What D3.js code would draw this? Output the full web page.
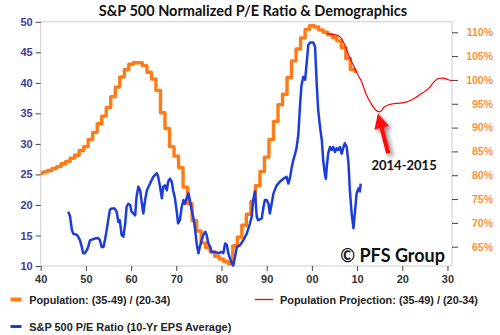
<!DOCTYPE html>
<html><head><meta charset="utf-8">
<script src="https://cdn.jsdelivr.net/npm/d3@7"></script>
<style>body{margin:0;background:#fff}svg{display:block}</style>
</head><body>
<script>
// ---- Data ----
const popYears = [1940,1941,1942,1943,1944,1945,1946,1947,1948,1949,1950,1951,1952,1953,1954,1955,1956,1957,1958,1959,1960,1961,1962,1963,1964,1965,1966,1967,1968,1969,1970,1971,1972,1973,1974,1975,1976,1977,1978,1979,1980,1981,1982,1983,1984,1985,1986,1987,1988,1989,1990,1991,1992,1993,1994,1995,1996,1997,1998,1999,2000,2001,2002,2003,2004,2005,2006,2007,2008,2009,2010];
const popValues = [80.4,80.7,81.0,81.4,81.8,82.4,82.9,83.6,84.2,85.2,86.0,87.5,89.0,90.8,92.4,94.2,96.5,98.5,100.6,102.2,103.3,103.6,103.6,103.0,101.6,100.2,97.8,93.1,89.8,86.0,84.0,81.6,77.5,74.0,70.5,68.3,65.8,64.8,63.9,63.0,62.4,61.9,61.4,65.2,67.0,69.5,71.8,74.5,77.8,80.8,83.8,87.5,91.3,94.8,97.0,100.5,104.0,106.5,108.8,110.6,111.4,111.1,110.5,110.0,109.5,108.9,108.2,106.8,104.5,102.2,101.8];

const projYears = [2003.3,2004,2005,2006,2007,2008,2009,2010,2011,2012,2013,2014,2015,2016,2017,2018,2019,2020,2021,2022,2023,2024,2025,2026,2027,2028,2029,2030,2031];
const projValues = [109.7,109.6,109.5,109.2,107.9,105.6,103.4,101.4,99.6,97.0,95.2,93.8,93.3,94.3,94.8,95.0,95.1,95.2,95.4,95.8,96.3,97.0,97.6,98.4,99.6,100.3,100.4,100.1,99.8];

const peYears = [1946.1,1946.5,1946.9,1947.2,1948.0,1948.3,1948.7,1949.1,1949.4,1949.8,1950.2,1950.5,1950.9,1952.0,1952.7,1953.1,1953.5,1953.9,1954.2,1954.6,1955.3,1955.7,1956.4,1956.8,1957.2,1957.5,1957.9,1958.3,1958.7,1959.0,1959.4,1959.8,1960.1,1960.9,1961.2,1961.6,1962.0,1962.4,1962.7,1963.1,1963.5,1964.2,1964.9,1965.7,1966.0,1966.4,1966.8,1967.1,1967.5,1967.9,1968.2,1968.6,1969.0,1969.3,1969.7,1970.1,1970.4,1970.8,1971.2,1971.6,1971.9,1972.3,1972.7,1973.0,1973.4,1973.8,1974.1,1974.5,1974.9,1975.2,1975.6,1976.0,1976.4,1976.7,1977.1,1977.5,1977.8,1978.6,1979.3,1980.0,1980.4,1980.8,1981.2,1981.5,1981.9,1982.3,1982.6,1983.0,1983.4,1984.1,1984.8,1985.6,1986.3,1986.7,1987.0,1987.4,1987.8,1988.1,1988.9,1989.3,1989.6,1990.0,1990.4,1990.7,1991.1,1991.5,1992.2,1992.9,1993.7,1994.4,1994.8,1995.2,1995.5,1995.9,1996.3,1996.6,1997.0,1997.4,1997.7,1998.1,1998.5,1998.9,1999.2,1999.6,2000.3,2000.7,2001.1,2001.4,2001.8,2002.2,2002.5,2002.9,2003.1,2003.3,2003.6,2004.0,2004.4,2004.7,2005.1,2005.5,2005.8,2006.2,2006.6,2007.0,2007.3,2007.7,2008.1,2008.4,2008.8,2009.2,2009.5,2009.9,2010.3,2010.6,2010.8];
const peValues = [18.9,18.1,15.9,15.3,15.1,14.8,14.2,13.1,12.1,12.1,12.6,13.1,14.2,14.5,14.6,14.2,13.1,13.1,14.2,15.9,19.2,19.4,19.4,18.9,17.2,17.5,15.1,14.8,17.0,19.7,20.2,20.0,18.9,18.3,21.3,23.0,22.4,20.2,18.6,20.8,22.4,23.5,24.6,25.2,24.6,23.0,21.1,23.0,23.2,22.4,23.8,24.3,23.8,22.4,21.1,18.9,17.0,17.5,19.7,20.8,20.2,21.1,21.9,20.8,19.2,17.8,16.4,13.7,12.1,13.1,14.2,15.1,15.6,15.1,13.7,13.1,12.3,12.3,12.1,12.3,12.1,13.7,13.4,12.1,11.2,10.4,10.1,11.5,13.1,13.4,14.2,15.3,17.0,18.1,20.8,22.2,18.1,17.5,17.8,19.7,20.8,20.8,20.2,18.6,20.2,21.9,23.2,23.8,24.3,24.6,23.5,24.6,26.0,27.4,28.4,29.3,31.5,36.6,39.6,41.0,40.5,43.7,46.2,46.6,46.6,45.9,39.4,35.5,32.8,30.6,27.4,24.9,24.3,26.3,28.4,29.5,29.0,29.5,28.7,29.3,29.0,29.5,28.4,29.5,30.1,29.5,26.8,22.4,18.6,16.2,18.6,21.9,22.7,22.2,23.5];

const xTicks = [1940,1950,1960,1970,1980,1990,2000,2010,2020,2030];
const xTickLabels = ["40","50","60","70","80","90","00","10","20","30"];
const leftTicks = [10,15,20,25,30,35,40,45,50];
const rightTicks = [65,70,75,80,85,90,95,100,105,110];

const titleText = "S&P 500 Normalized P/E Ratio & Demographics";
const legendLabels = ["Population: (35-49) / (20-34)", "Population Projection: (35-49) / (20-34)", "S&P 500 P/E Ratio (10-Yr EPS Average)"];
const arrowTip = [2014.6, 93.0];
const arrowTail = [2016.9, 84.6];

// ---- Chart ----
const W = 500, H = 335;
const C = {orange:"#ff7b17", red:"#ff0000", blue:"#1c3ddc", leftLab:"#3d3d9e", rightLab:"#f7923a"};
const svg = d3.select("body").append("svg").attr("width", W).attr("height", H);

const x = d3.scaleLinear().domain([1940, 2031]).range([40.7, 452]);
const yL = d3.scaleLinear().domain([10, 50]).range([266, 21.8]);
const yR = d3.scaleLinear().domain([60.95, 112.2]).range([266, 21.8]);

const defs = svg.append("defs");
const f = defs.append("filter").attr("id","shadow").attr("x","-50%").attr("y","-50%").attr("width","200%").attr("height","200%");
f.append("feDropShadow").attr("dx",3).attr("dy",3).attr("stdDeviation",2).attr("flood-color","#000").attr("flood-opacity",0.45);

// plot frame
svg.append("rect").attr("x", x.range()[0]).attr("y", yL.range()[1])
  .attr("width", x.range()[1]-x.range()[0]).attr("height", yL.range()[0]-yL.range()[1])
  .attr("fill","none").attr("stroke","#cccccc").attr("stroke-width",1);

// title
svg.append("text").attr("x", 253).attr("y", 16).attr("text-anchor","middle")
  .attr("font-family","Lato, 'Open Sans', sans-serif").attr("font-weight","bold")
  .attr("font-size", 14.5).attr("fill","#111").text(titleText);

// axes
const axFont = "'Liberation Sans', Arial, sans-serif";
const gL = svg.append("g").attr("transform", `translate(${x.range()[0]},0)`)
  .call(d3.axisLeft(yL).tickValues(leftTicks).tickSize(5).tickPadding(3));
gL.select(".domain").remove();
gL.selectAll("line").attr("stroke","#444");
gL.selectAll("text").attr("font-family",axFont).attr("font-weight","bold").attr("font-size",11).attr("fill",C.leftLab);

const gR = svg.append("g").attr("transform", `translate(${x.range()[1]},0)`)
  .call(d3.axisRight(yR).tickValues(rightTicks).tickFormat(d => d + "%").tickSize(6));
gR.select(".domain").remove();
gR.selectAll("line").attr("stroke","#444");
gR.selectAll("text").attr("x", 41).attr("text-anchor","end")
  .attr("font-family",axFont).attr("font-weight","bold").attr("font-size",10.5).attr("fill",C.rightLab);

const gX = svg.append("g").attr("transform", `translate(0,${yL.range()[0]})`)
  .call(d3.axisBottom(x).tickValues(xTicks).tickFormat((d,i) => xTickLabels[i]).tickSize(5).tickPadding(4));
gX.select(".domain").remove();
gX.selectAll("line").attr("stroke","#444");
gX.selectAll("text").attr("font-family",axFont).attr("font-weight","bold").attr("font-size",11).attr("fill","#333");

// lines
const popData = popYears.map((d,i) => [d, popValues[i]]);
const projData = projYears.map((d,i) => [d, projValues[i]]);
const peData = peYears.map((d,i) => [d, peValues[i]]);

svg.append("path").datum(popData)
  .attr("d", d3.line().x(d => x(d[0])).y(d => yR(d[1])).curve(d3.curveStep))
  .attr("fill","none").attr("stroke",C.orange).attr("stroke-width",3.4).attr("stroke-linejoin","round");

svg.append("path").datum(projData)
  .attr("d", d3.line().x(d => x(d[0])).y(d => yR(d[1])).curve(d3.curveMonotoneX))
  .attr("fill","none").attr("stroke",C.red).attr("stroke-width",1.2);

svg.append("path").datum(peData)
  .attr("d", d3.line().x(d => x(d[0])).y(d => yL(d[1])).curve(d3.curveLinear))
  .attr("fill","none").attr("stroke",C.blue).attr("stroke-width",2.5).attr("stroke-linejoin","round");

// arrow annotation
const tip = [x(arrowTip[0]), yR(arrowTip[1])];
const tail = [x(arrowTail[0]), yR(arrowTail[1])];
const dx = tip[0]-tail[0], dy = tip[1]-tail[1];
const len = Math.hypot(dx,dy), ux = dx/len, uy = dy/len, px = -uy, py = ux;
const headLen = 15, headW = 7.5, shaftW = 2.2;
const hb = [tip[0]-ux*headLen, tip[1]-uy*headLen];
const arrowPts = [
  [tail[0]+px*shaftW, tail[1]+py*shaftW],
  [hb[0]+px*shaftW, hb[1]+py*shaftW],
  [hb[0]+px*headW, hb[1]+py*headW],
  tip,
  [hb[0]-px*headW, hb[1]-py*headW],
  [hb[0]-px*shaftW, hb[1]-py*shaftW],
  [tail[0]-px*shaftW, tail[1]-py*shaftW]
];
svg.append("polygon").attr("points", arrowPts.map(p => p.join(",")).join(" "))
  .attr("fill","#ff1010").attr("filter","url(#shadow)");

svg.append("text").attr("x", 371.5).attr("y", 170)
  .attr("font-family","Lato, sans-serif").attr("font-weight","bold").attr("font-size",13).attr("fill","#111")
  .text("2014-2015");

svg.append("text").attr("x", 445).attr("y", 262).attr("text-anchor","end")
  .attr("font-family","Lato, sans-serif").attr("font-weight","bold").attr("font-size",18).attr("fill","#111")
  .text("© PFS Group");

// legend
const legend = [
  {c:C.orange, w:4, x1:10.5, x2:21.5, y:299.5, tx:29.3, tl:141, label:legendLabels[0]},
  {c:C.red, w:1.3, x1:255, x2:273, y:299.5, tx:280, tl:198, label:legendLabels[1]},
  {c:C.blue, w:3, x1:10.5, x2:21.5, y:326.5, tx:29.3, tl:202, label:legendLabels[2]}
];
const lg = svg.append("g");
legend.forEach(d => {
  lg.append("line").attr("x1",d.x1).attr("x2",d.x2).attr("y1",d.y).attr("y2",d.y).attr("stroke",d.c).attr("stroke-width",d.w);
  lg.append("text").attr("x",d.tx).attr("y",d.y+4).attr("font-family",axFont).attr("font-weight","bold")
    .attr("font-size",11).attr("textLength",d.tl).attr("lengthAdjust","spacingAndGlyphs")
    .attr("fill","#222").text(d.label);
});
</script>
</body></html>
